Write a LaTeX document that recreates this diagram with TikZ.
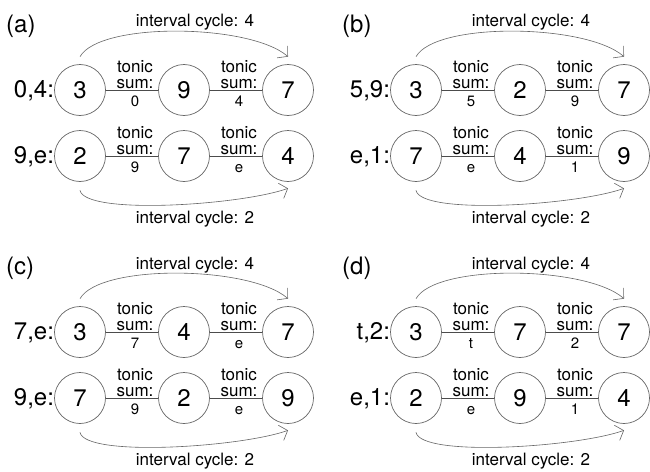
\documentclass[tikz,border=0pt]{standalone}
\usepackage{fontspec}
\setmainfont{TeX Gyre Heros}
\usetikzlibrary{arrows.meta}

\tikzset{
  x=1pt, y=-1pt,
  pc/.style={circle, draw=black!60, line width=0.7pt, minimum size=51pt,
    inner sep=0pt, font=\fontsize{24}{24}\selectfont},
  pre/.style={anchor=base east, inner sep=0pt, font=\fontsize{24}{24}\selectfont},
  ptag/.style={anchor=base west, inner sep=0pt, font=\fontsize{24}{24}\selectfont},
  link/.style={draw=black!70, line width=0.9pt},
  lab/.style={anchor=base, inner sep=0pt, font=\fontsize{17}{17}\selectfont},
  val/.style={anchor=base, inner sep=0pt, font=\fontsize{15}{15}\selectfont},
  cyc/.style={draw=black!60, line width=0.6pt,
    -{Straight Barb[length=7pt,width=16pt]}},
}

% "tonic sum:" label with its value, around the midpoint #1 of a link
\newcommand{\sumlabel}[2]{%
  \node[lab] (#1t) at ([xshift=3pt,yshift=18pt]#1) {tonic};
  \node[lab] (#1s) at ([xshift=3pt,yshift=2pt]#1) {sum:};
  \node[val] (#1v) at ([xshift=3pt,yshift=-16pt]#1) {#2};
}

% one row of three pitch-class circles: name, y, prefix, three digits, two sums
\newcommand{\cyclerow}[8]{%
  \node[pc] (#1x) at (80,#2) {#4};
  \node[pc] (#1y) at (184,#2) {#5};
  \node[pc] (#1z) at (288,#2) {#6};
  \node[pre] (#1p) at ([yshift=-7.5pt]#1x.west) {#3};
  \draw[link] (#1x) -- coordinate (#1m) (#1y);
  \draw[link] (#1y) -- coordinate (#1n) (#1z);
  \sumlabel{#1m}{#7}
  \sumlabel{#1n}{#8}
}

% the two interval-cycle arcs of a panel
\newcommand{\cyclearcs}[2]{%
  \draw[cyc] ([yshift=7.5pt]#1x.north) .. controls +(20,-35) and +(-38,-33)
    .. ([yshift=7.5pt]#1z.north);
  \node[lab] (#1c) at (195,27) {interval cycle: 4};
  \draw[cyc] ([yshift=-8.5pt]#2x.south) .. controls +(5,25) and +(-48,17)
    .. ([yshift=-6.5pt]#2z.south);
  \node[lab] (#2c) at (195,223) {interval cycle: 2};
}

\begin{document}
\begin{tikzpicture}
\fill[white] (0,0) rectangle (650,471);
\useasboundingbox (0,0) rectangle (650,471);

% (a)
\begin{scope}
  \node[ptag] (atag) at (6,32) {(a)};
  \cyclerow{ar}{90}{0,4:}{3}{9}{7}{0}{4}
  \cyclerow{as}{156}{9,e:}{2}{7}{4}{9}{e}
  \cyclearcs{ar}{as}
\end{scope}

% (b)
\begin{scope}[shift={(336,0)}]
  \node[ptag] (btag) at (6,32) {(b)};
  \cyclerow{br}{90}{5,9:}{3}{2}{7}{5}{9}
  \cyclerow{bs}{156}{e,1:}{7}{4}{9}{e}{1}
  \cyclearcs{br}{bs}
\end{scope}

% (c)
\begin{scope}[shift={(0,242)}]
  \node[ptag] (ctag) at (6,32) {(c)};
  \cyclerow{cr}{90}{7,e:}{3}{4}{7}{7}{e}
  \cyclerow{cs}{156}{9,e:}{7}{2}{9}{9}{e}
  \cyclearcs{cr}{cs}
\end{scope}

% (d)
\begin{scope}[shift={(336,242)}]
  \node[ptag] (dtag) at (6,32) {(d)};
  \cyclerow{dr}{90}{t,2:\ }{3}{7}{7}{t}{2}
  \cyclerow{ds}{156}{e,1:}{2}{9}{4}{e}{1}
  \cyclearcs{dr}{ds}
\end{scope}
\end{tikzpicture}
\end{document}
